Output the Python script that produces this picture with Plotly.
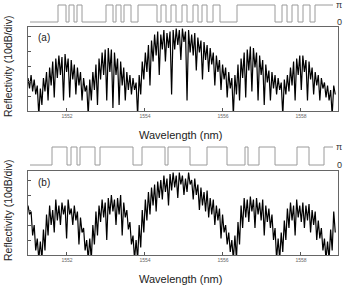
import numpy as np
import plotly.graph_objects as go

# ---------------- data ----------------
# Reflectivity in dB above the bottom of the plot frame (10 dB/div)
# panel (a): local maxima and minima of the fringes, left to right
a_hi = [22, 24, 21, 17, 15, 22, 26, 29, 33, 35,
        37, 36, 38, 35, 34, 31, 29, 26, 22, 17,
        21, 26, 31, 35, 39, 41, 42, 41, 39, 35,
        33, 29, 26, 24, 22, 19, 24, 33, 39, 44,
        47, 51, 53, 51, 54, 52, 53, 54, 55, 54,
        55, 53, 54, 51, 52, 49, 47, 46, 44, 42,
        39, 37, 34, 31, 29, 26, 22, 24, 31, 35,
        39, 41, 43, 42, 39, 37, 34, 31, 27, 26,
        24, 22, 19, 21, 24, 29, 33, 35, 37, 37,
        34, 33, 29, 26, 24, 22, 19, 17, 14, 17]
a_lo = [15, 13, 11, -3, 4, 13, 7, 17, 9, 22,
        24, 7, 26, 9, 21, 11, 17, 7, 13, -3,
        7, 14, 4, 21, 24, 7, 26, 2, 24, 4,
        17, 7, 14, 11, 14, -3, 11, 21, 26, 17,
        33, 37, 24, 41, 33, 42, 11, 41, 44, 34,
        46, 7, 39, 37, 27, 39, 21, 34, 26, 31,
        17, 26, 14, 21, 9, 15, -3, 11, 7, 22,
        9, 27, 13, 29, 7, 24, 4, 19, 7, 15,
        11, 14, -3, 11, 13, 17, 7, 24, 14, 26,
        7, 21, 11, 17, 7, 15, 9, 7, -3, 11]
# panel (b)
b_hi = [33, 29, 20, 11, 9, 17, 27, 33, 30, 37,
        33, 35, 33, 37, 31, 33, 29, 25, 18, 10,
        11, 20, 29, 33, 37, 35, 38, 40, 37, 38,
        40, 35, 30, 22, 13, 10, 20, 30, 37, 42,
        45, 47, 49, 50, 53, 51, 54, 55, 53, 55,
        53, 51, 55, 50, 51, 47, 45, 42, 43, 38,
        37, 33, 31, 27, 20, 15, 10, 13, 22, 33,
        38, 37, 39, 37, 38, 35, 37, 33, 31, 27,
        18, 11, 15, 23, 31, 35, 33, 37, 33, 35,
        33, 34, 30, 29, 23, 18, 11, 9, 17, 29]
b_lo = [27, 13, 3, -3, -3, 3, 13, 20, 15, 23,
        20, 27, 11, 27, 20, 23, 7, 15, 3, -3,
        -3, 7, 13, 22, 25, 10, 27, 29, 20, 27,
        13, 25, 17, 7, -3, -3, 5, 15, 23, 27,
        33, 29, 38, 37, 42, 33, 43, 45, 38, 47,
        40, 42, 47, 37, 40, 30, 33, 29, 25, 27,
        20, 23, 11, 15, 7, 2, -3, -3, 7, 18,
        25, 22, 29, 18, 27, 23, 13, 22, 18, 10,
        -3, -3, 2, 10, 18, 23, 13, 25, 22, 18,
        23, 15, 20, 10, 11, 3, -3, -3, 3, 15]

wl_min, wl_max = 1551.0, 1558.88
x_ticks = [1552, 1554, 1556, 1558]

# phase profiles: grating position of each 0 <-> pi switch (starts at 0)
a_switch = [58, 66, 69, 74, 77, 82, 106, 113, 116, 121, 124, 131, 138, 157,
            161, 166, 171, 176, 182, 187, 193, 198, 202, 207, 213, 220, 237,
            275, 282, 287, 292, 298, 303, 310, 315]
b_switch = [52, 67, 71, 77, 80, 95, 100, 133, 142, 165, 168, 190, 207, 227,
            245, 248, 259, 275, 297, 309, 324]
pos_start, pos_end = 30, 333


def spectrum(hi, lo):
    return [v for pair in zip(hi, lo) for v in pair]


def phase_steps(sw):
    xs = [pos_start] + sw + [pos_end]
    ys = [0]
    lvl = 0
    for _ in sw:
        lvl = 1 - lvl
        ys.append(lvl)
    ys.append(lvl)
    return xs, ys


W, H = 344, 288
FONT = "Liberation Sans, Arial, sans-serif"

fig = go.Figure()

panels = [
    dict(hi=a_hi, lo=a_lo, sw=a_switch, spec_px=(27, 111), ph_px=(3, 24),
         ph_pad=2 / 17, label="(a)", sx="x", sy="y", px="x2", py="y2"),
    dict(hi=b_hi, lo=b_lo, sw=b_switch, spec_px=(171, 255), ph_px=(145, 167),
         ph_pad=2 / 18, label="(b)", sx="x3", sy="y3", px="x4", py="y4"),
]

x_dom = [28 / W, 338 / W]
ph_dom = [pos_start / W, pos_end / W]

layout_axes = {}
annotations = []
for i, p in enumerate(panels):
    y = spectrum(p["hi"], p["lo"])
    wl = np.linspace(wl_min, wl_max, len(y))
    fig.add_trace(go.Scatter(x=wl, y=y, mode="lines", xaxis=p["sx"], yaxis=p["sy"],
                             line=dict(color="black", width=1.2), showlegend=False,
                             hoverinfo="skip"))
    px_, py_ = phase_steps(p["sw"])
    fig.add_trace(go.Scatter(x=px_, y=py_, mode="lines", line_shape="hv",
                             xaxis=p["px"], yaxis=p["py"],
                             line=dict(color="#9a9a9a", width=1), showlegend=False,
                             hoverinfo="skip"))

    t, b = p["spec_px"]
    sx = "xaxis" if p["sx"] == "x" else "xaxis" + p["sx"][1:]
    sy = "yaxis" if p["sy"] == "y" else "yaxis" + p["sy"][1:]
    pxn = "xaxis" + p["px"][1:]
    pyn = "yaxis" + p["py"][1:]
    layout_axes[sx] = dict(domain=x_dom, anchor=p["sy"], range=[1551.0, 1558.95],
                           tickvals=x_ticks, ticktext=[str(v) for v in x_ticks],
                           tickfont=dict(size=5, color="#666", family=FONT),
                           ticks="inside", ticklen=3, tickcolor="#555",
                           showline=True, mirror=True, linecolor="#666", linewidth=1,
                           showgrid=False, zeroline=False)
    layout_axes[sy] = dict(domain=[1 - b / H, 1 - t / H], anchor=p["sx"], range=[0, 56],
                           tickvals=[0, 10, 20, 30, 40, 50], showticklabels=False,
                           ticks="inside", ticklen=3, tickcolor="#555",
                           showline=True, mirror=True, linecolor="#666", linewidth=1,
                           showgrid=False, zeroline=False)
    pt, pb = p["ph_px"]
    layout_axes[pxn] = dict(domain=ph_dom, anchor=p["py"], range=[pos_start, pos_end],
                            visible=False)
    layout_axes[pyn] = dict(domain=[1 - pb / H, 1 - pt / H], anchor=p["px"],
                            range=[-p["ph_pad"], 1 + p["ph_pad"]], visible=False)

    # labels
    zero_px = pb - 2
    pi_px = pt + 2
    annotations += [
        dict(text="π", x=339 / W, y=1 - pi_px / H, xref="paper", yref="paper",
             showarrow=False, xanchor="center", yanchor="middle",
             font=dict(size=9, color="#333", family=FONT)),
        dict(text="0", x=339 / W, y=1 - zero_px / H, xref="paper", yref="paper",
             showarrow=False, xanchor="center", yanchor="middle",
             font=dict(size=9, color="#333", family=FONT)),
        dict(text=p["label"], x=36 / W, y=1 - (t + 11) / H, xref="paper", yref="paper",
             showarrow=False, xanchor="left", yanchor="middle",
             font=dict(size=10, color="#222", family=FONT)),
        dict(text="Wavelength (nm)", x=180 / W, y=1 - (b + 24) / H, xref="paper",
             yref="paper", showarrow=False, xanchor="center", yanchor="middle",
             font=dict(size=11, color="#222", family=FONT)),
        dict(text="Reflectivity (10dB/div)", x=8 / W, y=1 - ((t + b) / 2 - 3) / H,
             xref="paper", yref="paper", showarrow=False, textangle=-90,
             xanchor="center", yanchor="middle",
             font=dict(size=10.5, color="#222", family=FONT)),
    ]

fig.update_layout(width=W, height=H, margin=dict(l=0, r=0, t=0, b=0),
                  paper_bgcolor="white", plot_bgcolor="white",
                  annotations=annotations, **layout_axes)

fig.write_html("out.html")
